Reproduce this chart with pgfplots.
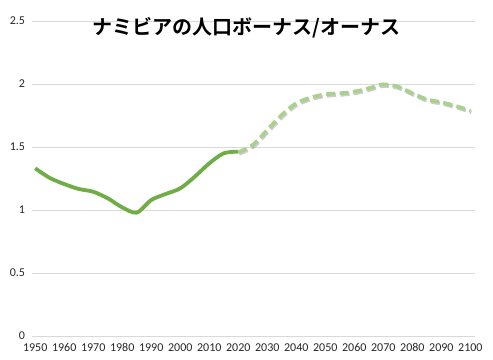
\documentclass[border=0pt]{standalone}
\usepackage{pgfplots}
\pgfplotsset{compat=1.18}
\usepackage{fontspec}
\setmainfont{Carlito}
\newfontfamily\cjk{Noto Sans CJK JP Bold}
\definecolor{solidgreen}{HTML}{70AD47}
\definecolor{dashgreen}{HTML}{A9D18E}
\definecolor{gridgray}{HTML}{D9D9D9}
\begin{document}
\begin{tikzpicture}
\begin{axis}[
  scale only axis,
  width=443bp, height=315bp,
  xmin=1948.9, xmax=2101.6,
  ymin=0, ymax=2.5,
  xtick={1950,1960,...,2100},
  ytick={0,0.5,1,1.5,2,2.5},
  yticklabels={0,0.5,1,1.5,2,2.5},
  xticklabels={1950,1960,1970,1980,1990,2000,2010,2020,2030,2040,2050,2060,2070,2080,2090,2100},
  axis line style={draw=none},
  major tick length=0pt,
  ymajorgrids, grid style={gridgray, line width=0.8bp},
  tick label style={font=\fontsize{12bp}{14bp}\selectfont, text=black!85},
  yticklabel style={anchor=east, xshift=-3.5bp},
  xticklabel style={anchor=north, yshift=-4bp},
  clip=false,
]
\addplot[solidgreen, line width=3.8bp, smooth, tension=0.5] coordinates {
(1950,1.331) (1955,1.255) (1960,1.206) (1965,1.167) (1970,1.145) (1975,1.093)
(1980,1.021) (1985,0.979) (1990,1.079) (1995,1.127) (2000,1.172) (2005,1.264)
(2010,1.370) (2015,1.450) (2020,1.463)
};
\addplot[black!45, opacity=0.45, line width=3.8bp, dash pattern=on 9bp off 4.5bp, smooth, tension=0.5, xshift=1bp, yshift=-1.5bp] coordinates {
(2020,1.458) (2025,1.516) (2030,1.635) (2035,1.754) (2040,1.847) (2045,1.892)
(2050,1.918) (2055,1.926) (2060,1.939) (2065,1.966) (2070,1.997) (2075,1.979)
(2080,1.926) (2085,1.878) (2090,1.855) (2095,1.825) (2100,1.788)
};
\addplot[dashgreen, line width=3.8bp, dash pattern=on 9bp off 4.5bp, smooth, tension=0.5] coordinates {
(2020,1.458) (2025,1.516) (2030,1.635) (2035,1.754) (2040,1.847) (2045,1.892)
(2050,1.918) (2055,1.926) (2060,1.939) (2065,1.966) (2070,1.997) (2075,1.979)
(2080,1.926) (2085,1.878) (2090,1.855) (2095,1.825) (2100,1.788)
};
\end{axis}
\node[font=\cjk\fontsize{20bp}{24bp}\selectfont, anchor=center] at ([xshift=-7bp,yshift=-7bp]current axis.north) {ナミビアの人口ボーナス/オーナス};
\path ([xshift=-32bp,yshift=-24bp]current axis.south west) rectangle ([xshift=18bp,yshift=21bp]current axis.north east);
\end{tikzpicture}
\end{document}
